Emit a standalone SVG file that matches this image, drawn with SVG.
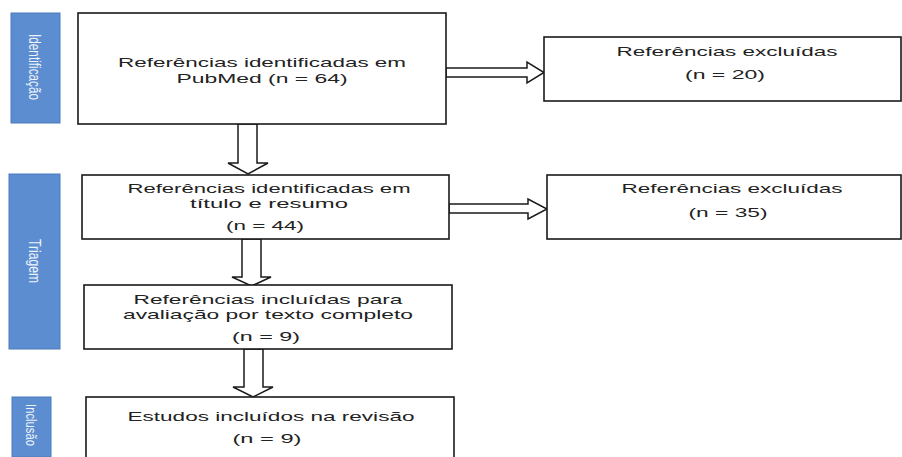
<svg xmlns="http://www.w3.org/2000/svg" width="902" height="457" viewBox="0 0 902 457">
<style>
.box{fill:#fff;stroke:#1a1a1a;stroke-width:1.6}
.lab{fill:#5b8dd0;stroke:#4a7cbd;stroke-width:1}
.arr{fill:#fff;stroke:#1a1a1a;stroke-width:1.5;stroke-linejoin:miter}
.t{font-family:"Liberation Sans",Arial,sans-serif;font-size:13.5px;fill:#222;text-anchor:middle}
.lt{font-family:"Liberation Sans",Arial,sans-serif;font-size:16px;fill:#eef3fa;text-anchor:middle}
</style>
<rect width="902" height="457" fill="#fff"/>
<g id="label-identificacao">
<rect class="lab" x="11" y="13" width="49" height="110"/>
<text class="lt" transform="translate(29,67) rotate(90)" textLength="66" lengthAdjust="spacingAndGlyphs">Identificação</text>
</g>
<g id="label-triagem">
<rect class="lab" x="9" y="174" width="51" height="175"/>
<text class="lt" transform="translate(29,261) rotate(90)" textLength="44" lengthAdjust="spacingAndGlyphs">Triagem</text>
</g>
<g id="label-inclusao">
<rect class="lab" x="12" y="397" width="39" height="60"/>
<text class="lt" style="font-size:14px" transform="translate(26,425) rotate(90)" textLength="42" lengthAdjust="spacingAndGlyphs">Inclusão</text>
</g>
<g id="connectors">
<polygon class="arr" points="446,68 527,68 527,62 544,72.5 527,83 527,77 446,77"/>
<polygon class="arr" points="449,204 528,204 528,199 547,209 528,219 528,213 449,213"/>
<polygon class="arr" points="238,124 238,163 228,163 248,174 268,163 257,163 257,124"/>
<polygon class="arr" points="242,239 242,277 232,277 251.5,286 271,277 261,277 261,239"/>
<polygon class="arr" points="244,349 244,387 233,387 253,397 273,387 263,387 263,349"/>
</g>
<g id="node-pubmed">
<rect class="box" x="78" y="13" width="368" height="111"/>
<text class="t" x="262" y="67" textLength="288" lengthAdjust="spacingAndGlyphs">Referências identificadas em</text>
<text class="t" x="262" y="83" textLength="171" lengthAdjust="spacingAndGlyphs">PubMed (n = 64)</text>
</g>
<g id="node-excl1">
<rect class="box" x="544" y="37" width="357" height="64"/>
<text class="t" x="727" y="56" textLength="221" lengthAdjust="spacingAndGlyphs">Referências excluídas</text>
<text class="t" x="725" y="79" textLength="80" lengthAdjust="spacingAndGlyphs">(n = 20)</text>
</g>
<g id="node-titulo">
<rect class="box" x="82" y="175" width="367" height="64"/>
<text class="t" x="269" y="193" textLength="283" lengthAdjust="spacingAndGlyphs">Referências identificadas em</text>
<text class="t" x="269" y="208" textLength="158" lengthAdjust="spacingAndGlyphs">título e resumo</text>
<text class="t" x="265" y="230" textLength="78" lengthAdjust="spacingAndGlyphs">(n = 44)</text>
</g>
<g id="node-excl2">
<rect class="box" x="547" y="175" width="354" height="64"/>
<text class="t" x="732" y="193" textLength="221" lengthAdjust="spacingAndGlyphs">Referências excluídas</text>
<text class="t" x="728" y="217" textLength="79" lengthAdjust="spacingAndGlyphs">(n = 35)</text>
</g>
<g id="node-completo">
<rect class="box" x="84" y="285" width="368" height="64"/>
<text class="t" x="268" y="304" textLength="269" lengthAdjust="spacingAndGlyphs">Referências incluídas para</text>
<text class="t" x="268" y="319" textLength="290" lengthAdjust="spacingAndGlyphs">avaliação por texto completo</text>
<text class="t" x="266" y="341" textLength="68" lengthAdjust="spacingAndGlyphs">(n = 9)</text>
</g>
<g id="node-estudos">
<rect class="box" x="86" y="397" width="368" height="70"/>
<text class="t" x="271" y="421" textLength="287" lengthAdjust="spacingAndGlyphs">Estudos incluídos na revisão</text>
<text class="t" x="267" y="443" textLength="69" lengthAdjust="spacingAndGlyphs">(n = 9)</text>
</g>
</svg>
